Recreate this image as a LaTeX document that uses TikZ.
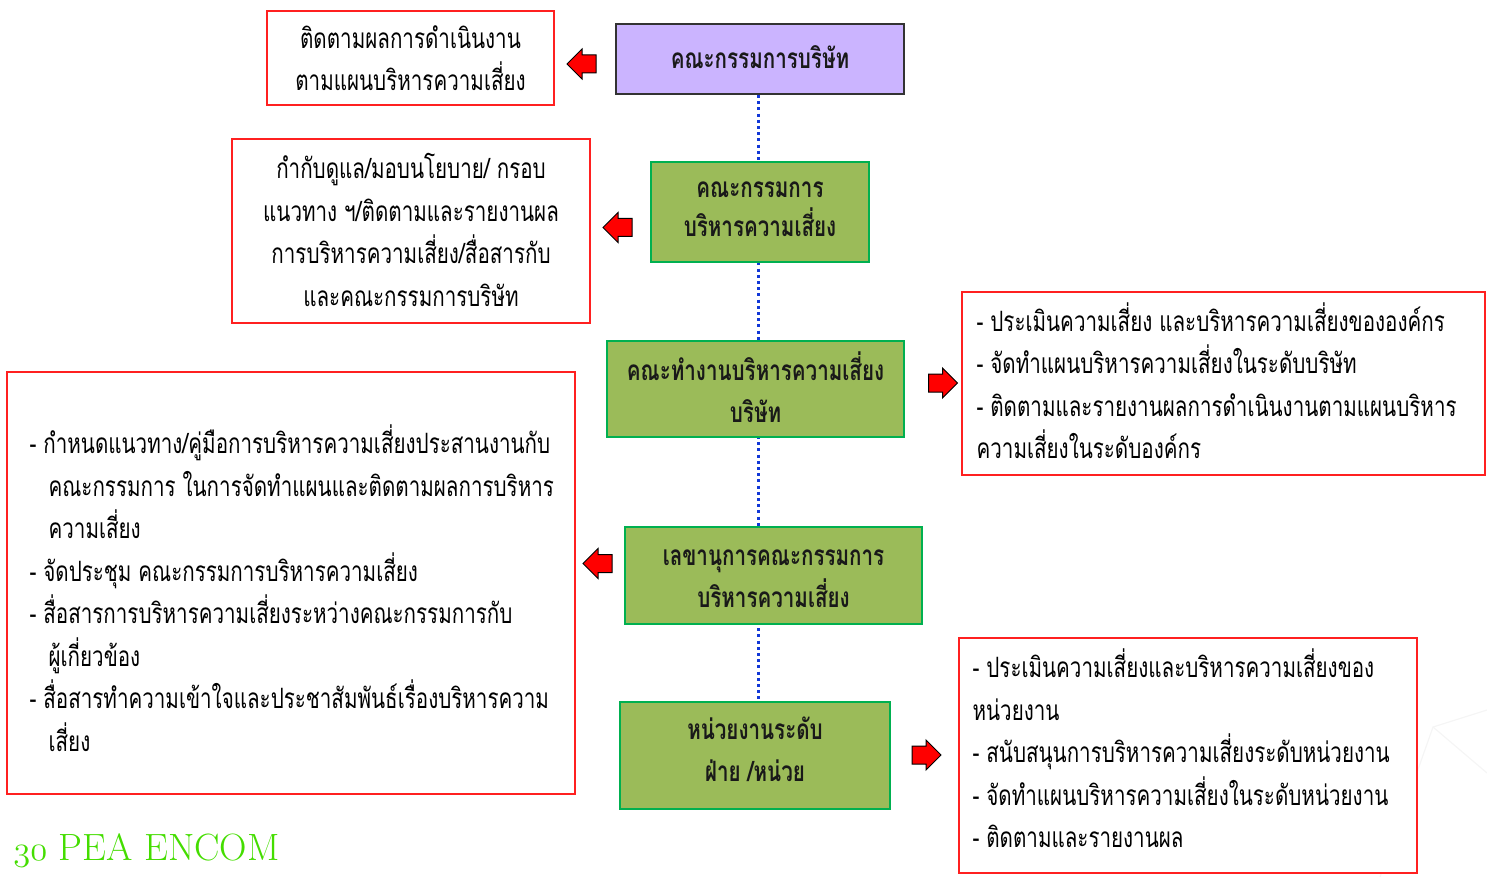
\documentclass[tikz,border=0pt]{standalone}
\usepackage{fontspec}
\usetikzlibrary{shapes.arrows,backgrounds}
\newfontfamily\thai[Script=Thai,FakeStretch=0.735]{Loma}
\definecolor{redline}{HTML}{FF2020}
\definecolor{greenfill}{HTML}{9BBB59}
\definecolor{greenline}{HTML}{00B050}
\definecolor{purplefill}{HTML}{CBB4FF}
\definecolor{dotblue}{HTML}{1238D8}
\definecolor{logogreen}{HTML}{44DD00}
\tikzset{
  redbox/.style={draw=redline,line width=0.8pt,fill=white,inner sep=0pt},
  greenbox/.style={draw=greenline,line width=1pt,fill=greenfill,inner sep=0pt},
  boxtext/.style={inner sep=0pt,align=center,font=\thai\bfseries\fontsize{14}{21}\selectfont,text=black!90},
  thaitext/.style={font=\thai\fontsize{14}{21.25}\selectfont,inner sep=0pt},
  redarrow/.style={single arrow,draw=black,line width=0.5pt,fill=red,inner sep=4.25pt,
    minimum height=14.5pt,single arrow head extend=3pt,single arrow tip angle=90},
  dotline/.style={draw=dotblue,line width=1.5pt,dash pattern=on 1.5pt off 1.6pt}
}
\begin{document}
\begin{tikzpicture}[x=0.5pt,y=-0.5pt]
\useasboundingbox (0,0) rectangle (1487,877);
% faint background lines
\begin{scope}[draw=black!4,line width=0.6pt]
\draw (1380,877) -- (1433,727) -- (1487,710);
\draw (1433,727) -- (1487,773);
\end{scope}
% boxes of the chain
\node[draw=black!80,line width=1pt,fill=purplefill,minimum width=144pt,minimum height=35pt] (b1) at (760,59) {};
\node[greenbox,minimum width=109pt,minimum height=50pt] (b2) at (760,212) {};
\node[greenbox,minimum width=148.5pt,minimum height=48pt] (b3) at (755.5,389) {};
\node[greenbox,minimum width=148.5pt,minimum height=48.5pt] (b4) at (773.5,575.5) {};
\node[greenbox,minimum width=135pt,minimum height=53.5pt] (b5) at (755,755.5) {};
\node[boxtext] (t1) at ([yshift=0.8pt]b1) {คณะกรรมการบริษัท};
\node[boxtext,font=\thai\bfseries\fontsize{14}{19.5}\selectfont] (t2) at ([yshift=1.2pt]b2) {คณะกรรมการ\\บริหารความเสี่ยง};
\node[boxtext] (t3) at ([yshift=1pt]b3) {คณะทำงานบริหารความเสี่ยง\\บริษัท};
\node[boxtext] (t4) at ([yshift=-1.5pt]b4) {เลขานุการคณะกรรมการ\\บริหารความเสี่ยง};
\node[boxtext] (t5) at ([yshift=3pt]b5) {หน่วยงานระดับ\\ฝ่าย /หน่วย};
\begin{scope}[on background layer]
\draw[dotline] ([xshift=-1pt]b1.south) -- ([xshift=-1pt]b1.south |- b5.north);
\end{scope}
% red boxes
\node[redbox,minimum width=143.5pt,minimum height=47pt] (r1) at (410.5,58) {};
\node[thaitext,align=center] (s1) at (r1) {ติดตามผลการดำเนินงาน\\ตามแผนบริหารความเสี่ยง};
\node[redbox,minimum width=179pt,minimum height=92pt] (r2) at (411,231) {};
\node[thaitext,align=center] (s2) at ([yshift=0.5pt]r2) {กำกับดูแล/มอบนโยบาย/ กรอบ\\แนวทาง ฯ/ติดตามและรายงานผล\\การบริหารความเสี่ยง/สื่อสารกับ\\และคณะกรรมการบริษัท};
\node[redbox,minimum width=261.5pt,minimum height=91.5pt] (r3) at (1223.5,383.5) {};
\node[thaitext,align=left,anchor=west] (s3) at ([xshift=7.5pt,yshift=1.5pt]r3.west) {- ประเมินความเสี่ยง และบริหารความเสี่ยงขององค์กร\\- จัดทำแผนบริหารความเสี่ยงในระดับบริษัท\\- ติดตามและรายงานผลการดำเนินงานตามแผนบริหาร\\ความเสี่ยงในระดับองค์กร};
\node[redbox,minimum width=284pt,minimum height=211pt] (r4) at (291,583) {};
\node[thaitext,align=left,anchor=west] (s4) at ([xshift=11.5pt,yshift=-2.5pt]r4.west) {- กำหนดแนวทาง/คู่มือการบริหารความเสี่ยงประสานงานกับ\\\hspace*{9.5pt}คณะกรรมการ ในการจัดทำแผนและติดตามผลการบริหาร\\\hspace*{9.5pt}ความเสี่ยง\\- จัดประชุม คณะกรรมการบริหารความเสี่ยง\\- สื่อสารการบริหารความเสี่ยงระหว่างคณะกรรมการกับ\\\hspace*{9.5pt}ผู้เกี่ยวข้อง\\- สื่อสารทำความเข้าใจและประชาสัมพันธ์เรื่องบริหารความ\\\hspace*{9.5pt}เสี่ยง};
\node[redbox,minimum width=229pt,minimum height=117.5pt] (r5) at (1188,755.5) {};
\node[thaitext,align=left,anchor=west] (s5) at ([xshift=7pt,yshift=3.5pt]r5.west) {- ประเมินความเสี่ยงและบริหารความเสี่ยงของ\\หน่วยงาน\\- สนับสนุนการบริหารความเสี่ยงระดับหน่วยงาน\\- จัดทำแผนบริหารความเสี่ยงในระดับหน่วยงาน\\- ติดตามและรายงานผล};
% arrows
\node[redarrow,shape border rotate=180] (a1) at (586,64) {};
\node[redarrow,shape border rotate=180] (a2) at (622,227.5) {};
\node[redarrow] (a3) at (938.5,383) {};
\node[redarrow,shape border rotate=180] (a4) at (602,563.5) {};
\node[redarrow] (a5) at (922,755) {};
% logo
\node[anchor=base west,inner sep=0pt,text=logogreen,font=\fontsize{19}{23}\selectfont] (logo) at (13,860) {{\usefont{OML}{cmm}{m}{it}\fontsize{19}{23}\selectfont 30} PEA ENCOM};
\end{tikzpicture}
\end{document}
